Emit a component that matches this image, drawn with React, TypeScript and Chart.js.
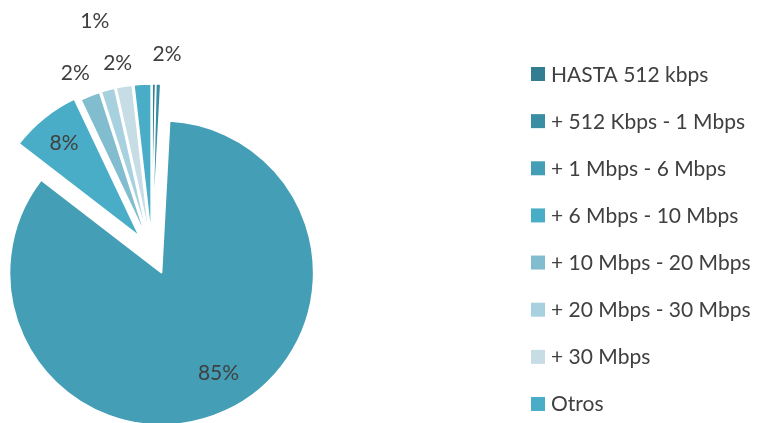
import React, { useEffect, useRef } from 'react';
import { Chart, registerables } from 'chart.js';

Chart.register(...registerables);

// ---- data ----
const categories = [
  'HASTA 512 kbps',
  '+ 512 Kbps - 1 Mbps',
  '+ 1 Mbps - 6 Mbps',
  '+ 6 Mbps - 10 Mbps',
  '+ 10 Mbps - 20 Mbps',
  '+ 20 Mbps - 30 Mbps',
  '+ 30 Mbps',
  'Otros',
];
const shares = [0.35, 0.5, 84.6, 7.5, 2.1, 1.45, 1.7, 1.8];
const colors = ['#327d91', '#3a8ea4', '#449fb6', '#4aadc7', '#82bccf', '#a8d1df', '#c6dde6', '#4aadc7'];
const explodePx = [16, 16, 23, 20, 16, 16, 16, 16];

const RADIUS = 152;
const FONT = 'Lato, Carlito, Calibri, sans-serif';
const TEXT = '#404040';

// label layout tweaks (like manual data-label placement)
const labelNudge: Record<number, [number, number]> = {
  2: [9, -5],
  4: [-5, 2],
  5: [-6, -43],
  6: [-2, 3],
  7: [26, -4],
};

// explode slices along their bisector, keeping the full radius
const explode = {
  id: 'explode',
  afterDatasetUpdate(chart: any) {
    const meta = chart.getDatasetMeta(0);
    meta.data.forEach((el: any, i: number) => {
      const mid = (el.startAngle + el.endAngle) / 2;
      el.x += Math.cos(mid) * explodePx[i];
      el.y += Math.sin(mid) * explodePx[i];
    });
  },
};

const pctLabels = {
  id: 'pctLabels',
  afterDatasetsDraw(chart: any) {
    const ctx = chart.ctx;
    const meta = chart.getDatasetMeta(0);
    const total = shares.reduce((a, b) => a + b, 0);
    ctx.save();
    ctx.font = `21px ${FONT}`;
    ctx.fillStyle = TEXT;
    ctx.textAlign = 'center';
    ctx.textBaseline = 'alphabetic';
    meta.data.forEach((el: any, i: number) => {
      const share = (shares[i] / total) * 100;
      if (share < 1) return;
      const pct = Math.round(share);
      const mid = (el.startAngle + el.endAngle) / 2;
      const inside = share > 5;
      const d = inside ? RADIUS * (i === 2 ? 0.755 : 0.79) : RADIUS + 27;
      let x = el.x + Math.cos(mid) * d;
      let y = el.y + Math.sin(mid) * d;
      const n = labelNudge[i];
      if (n) {
        x += n[0];
        y += n[1];
      }
      ctx.fillText(pct + '%', x, y + 7.5);
    });
    ctx.restore();
  },
};

const sideLegend = {
  id: 'sideLegend',
  afterDraw(chart: any) {
    const ctx = chart.ctx;
    const labels: string[] = chart.data.labels;
    const bg: string[] = chart.data.datasets[0].backgroundColor;
    ctx.save();
    ctx.font = `21px ${FONT}`;
    ctx.textAlign = 'left';
    ctx.textBaseline = 'alphabetic';
    labels.forEach((lab, i) => {
      const cy = 74 + i * 47.14;
      ctx.fillStyle = bg[i];
      ctx.fillRect(531, cy - 7, 14, 14);
      ctx.fillStyle = TEXT;
      ctx.fillText(lab, 551, cy + 7.5);
    });
    ctx.restore();
  },
};

export default function App() {
  const ref = useRef<HTMLCanvasElement>(null);
  useEffect(() => {
    if (!ref.current) return;
    const chart = new Chart(ref.current, {
      type: 'pie',
      data: {
        labels: categories,
        datasets: [
          {
            data: shares,
            backgroundColor: colors,
            borderColor: '#ffffff',
            borderWidth: 1.5,
          },
        ],
      },
      options: {
        responsive: false,
        animation: false,
        events: [],
        radius: RADIUS,
        rotation: 0,
        layout: { padding: { left: 0, right: 454, top: 81, bottom: 0 } },
        plugins: {
          legend: { display: false },
          tooltip: { enabled: false },
        },
      } as any,
      plugins: [explode, pctLabels, sideLegend],
    });
    return () => chart.destroy();
  }, []);
  return (
    <div style={{ position: 'absolute', left: 0, top: 0, width: 758, height: 423, background: '#fff' }}>
      <canvas ref={ref} width={758} height={423} style={{ display: 'block' }} />
    </div>
  );
}
